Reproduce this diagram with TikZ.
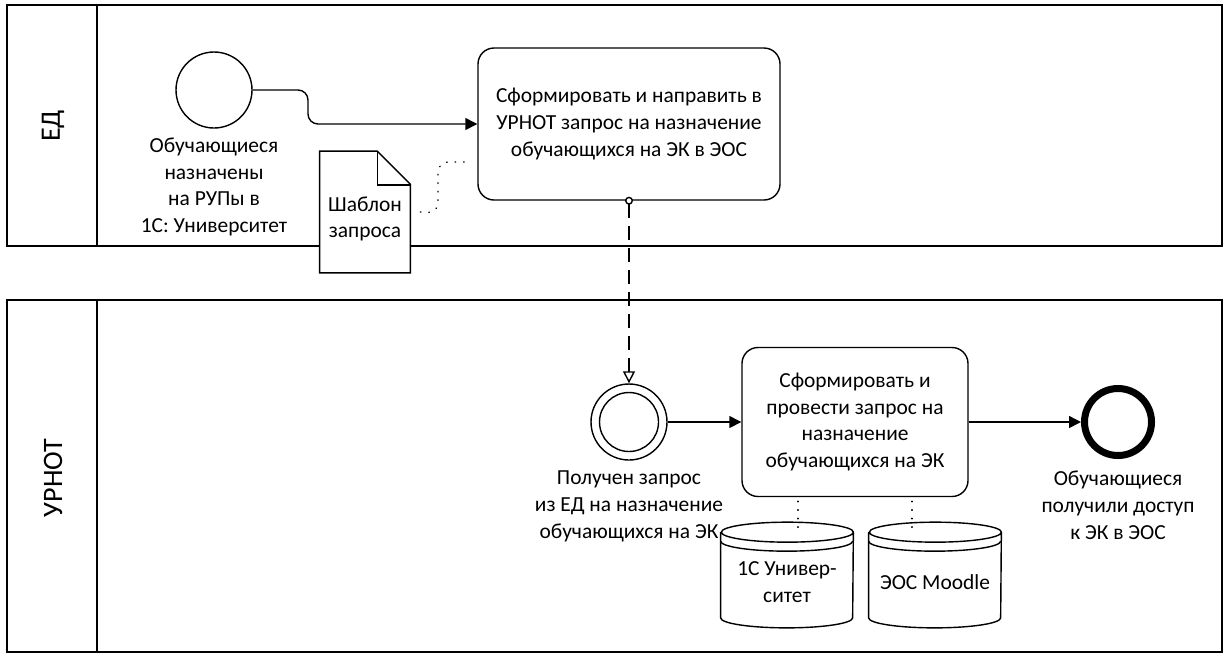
\documentclass[tikz,border=0pt]{standalone}
\usepackage{fontspec}
\setmainfont{Carlito}
\usetikzlibrary{positioning,arrows.meta,calc}
\tikzset{every node/.style={font=\fontsize{12.2}{15.2}\selectfont},
  lane/.style={draw, line width=0.8pt},
  lanename/.style={rotate=90, font=\fontsize{16}{18}\selectfont},
  event/.style={circle, draw, line width=0.8pt, minimum size=15.2mm, inner sep=0pt},
  endevent/.style={circle, draw, line width=1.4mm, minimum size=13.4mm, inner sep=0pt},
  task/.style={rectangle, rounded corners=3.2mm, draw, line width=0.8pt, align=center, fill=white},
  label/.style={align=center, inner sep=1pt},
  flow/.style={-{Triangle[length=2.4mm,width=2.4mm]}, line width=0.8pt},
  msg/.style={{Circle[fill=white,length=1.6mm]}-{Triangle[open,length=2.4mm,width=2.4mm]}, line width=0.8pt,
    dash pattern=on 2.8mm off 1.6mm},
  assoc/.style={line width=0.8pt, dash pattern=on 0.3pt off 1.6mm, line cap=round},
  docbox/.style={minimum width=18mm, minimum height=24.2mm, inner sep=0pt, align=center},
  storebox/.style={minimum width=26.4mm, minimum height=21mm, inner sep=0pt, align=center}}
% data store: cylinder with band round a named box
\newcommand\drawstore[1]{
  \draw[line width=0.8pt, fill=white] ([yshift=-2mm]#1.north west) -- ([yshift=2mm]#1.south west)
    arc[start angle=180, end angle=360, x radius=13.2mm, y radius=2mm]
    -- ([yshift=-2mm]#1.north east)
    arc[start angle=0, end angle=180, x radius=13.2mm, y radius=2mm]
    arc[start angle=180, end angle=360, x radius=13.2mm, y radius=2mm];
  \draw[line width=0.8pt] ([yshift=-3.8mm]#1.north west)
    arc[start angle=180, end angle=360, x radius=13.2mm, y radius=2mm];}

\begin{document}
\begin{tikzpicture}[x=0.2mm, y=-0.2mm]
\useasboundingbox (0,0) rectangle (1223,654);
% lanes
\draw[lane] (7,5) rectangle (1222,246);
\draw[lane] (97,5) -- (97,246);
\draw[lane] (7,300) rectangle (1222,652);
\draw[lane] (97,300) -- (97,652);
\node[lanename] (ed) at (53,126) {ЕД};
\node[lanename] (urnot) at (53,478) {УРНОТ};

% lane ЕД
\node[event] (start) at (214,90) {};
\node[label, below=1.4mm of start] (startlbl) {Обучающиеся\\назначены\\на РУПы в\\1С: Университет};
\node[task, minimum width=60.4mm, minimum height=30.4mm] (task1) at (629,124)
  {Сформировать и направить в\\УРНОТ запрос на назначение\\обучающихся на ЭК в ЭОС};
\node[docbox] (doc) at (365,212) {};
\draw[line width=0.8pt, fill=white] (doc.south west) -- (doc.north west)
  -- ([xshift=-6.6mm]doc.north east) -- ([yshift=-6.6mm]doc.north east) -- (doc.south east) -- cycle;
\draw[line width=0.8pt] ([xshift=-6.6mm]doc.north east) |- ([yshift=-6.8mm]doc.north east);
\node[label] (doctxt) at ([yshift=-1.4mm]doc.center) {Шаблон\\запроса};

\draw[flow, rounded corners=2mm]
  (start.east) -| (308,124) -- (task1.west);
\draw[assoc, rounded corners=2mm]
  ([xshift=2mm]doc.east) -- (438,213) -- (438,162) -- ([xshift=-1.6mm]task1.west |- 0,162);

% lane УРНОТ
\node[event] (catch) at (629,422) {};
\draw[line width=0.8pt] (catch.center) circle[radius=5.9mm];
\node[label, below=1.6mm of catch] (catchlbl) {Получен запрос\\из ЕД на назначение\\обучающихся на ЭК};
\node[task, minimum width=45.2mm, minimum height=29.8mm] (task2) at (855,422)
  {Сформировать и\\провести запрос на\\назначение\\обучающихся на ЭК};
\node[endevent] (finish) at (1118,422) {};
\node[label, below=2mm of finish] (finishlbl) {Обучающиеся\\получили доступ\\к ЭК в ЭОС};
\node[storebox] (db1) at (787,575) {};
\drawstore{db1}
\node[label] (db1txt) at ([yshift=-1.4mm]db1.center) {1С Универ-\\ситет};
\node[storebox] (db2) at (935,575) {};
\drawstore{db2}
\node[label] (db2txt) at ([yshift=-1.4mm]db2.center) {ЭОС Moodle};

\path[msg] ([yshift=0.8mm]task1.south) edge (catch.north);
\path[flow] (catch) edge (task2);
\path[flow] (task2) edge (finish);
\draw[assoc] ([xshift=-11.4mm, yshift=-0.8mm]task2.south) -- ([xshift=-11.4mm, yshift=-1.2mm]task2.south |- db1.north);
\draw[assoc] ([xshift=11.4mm, yshift=-0.8mm]task2.south) -- ([xshift=11.4mm, yshift=-1.2mm]task2.south |- db2.north);
\end{tikzpicture}
\end{document}
